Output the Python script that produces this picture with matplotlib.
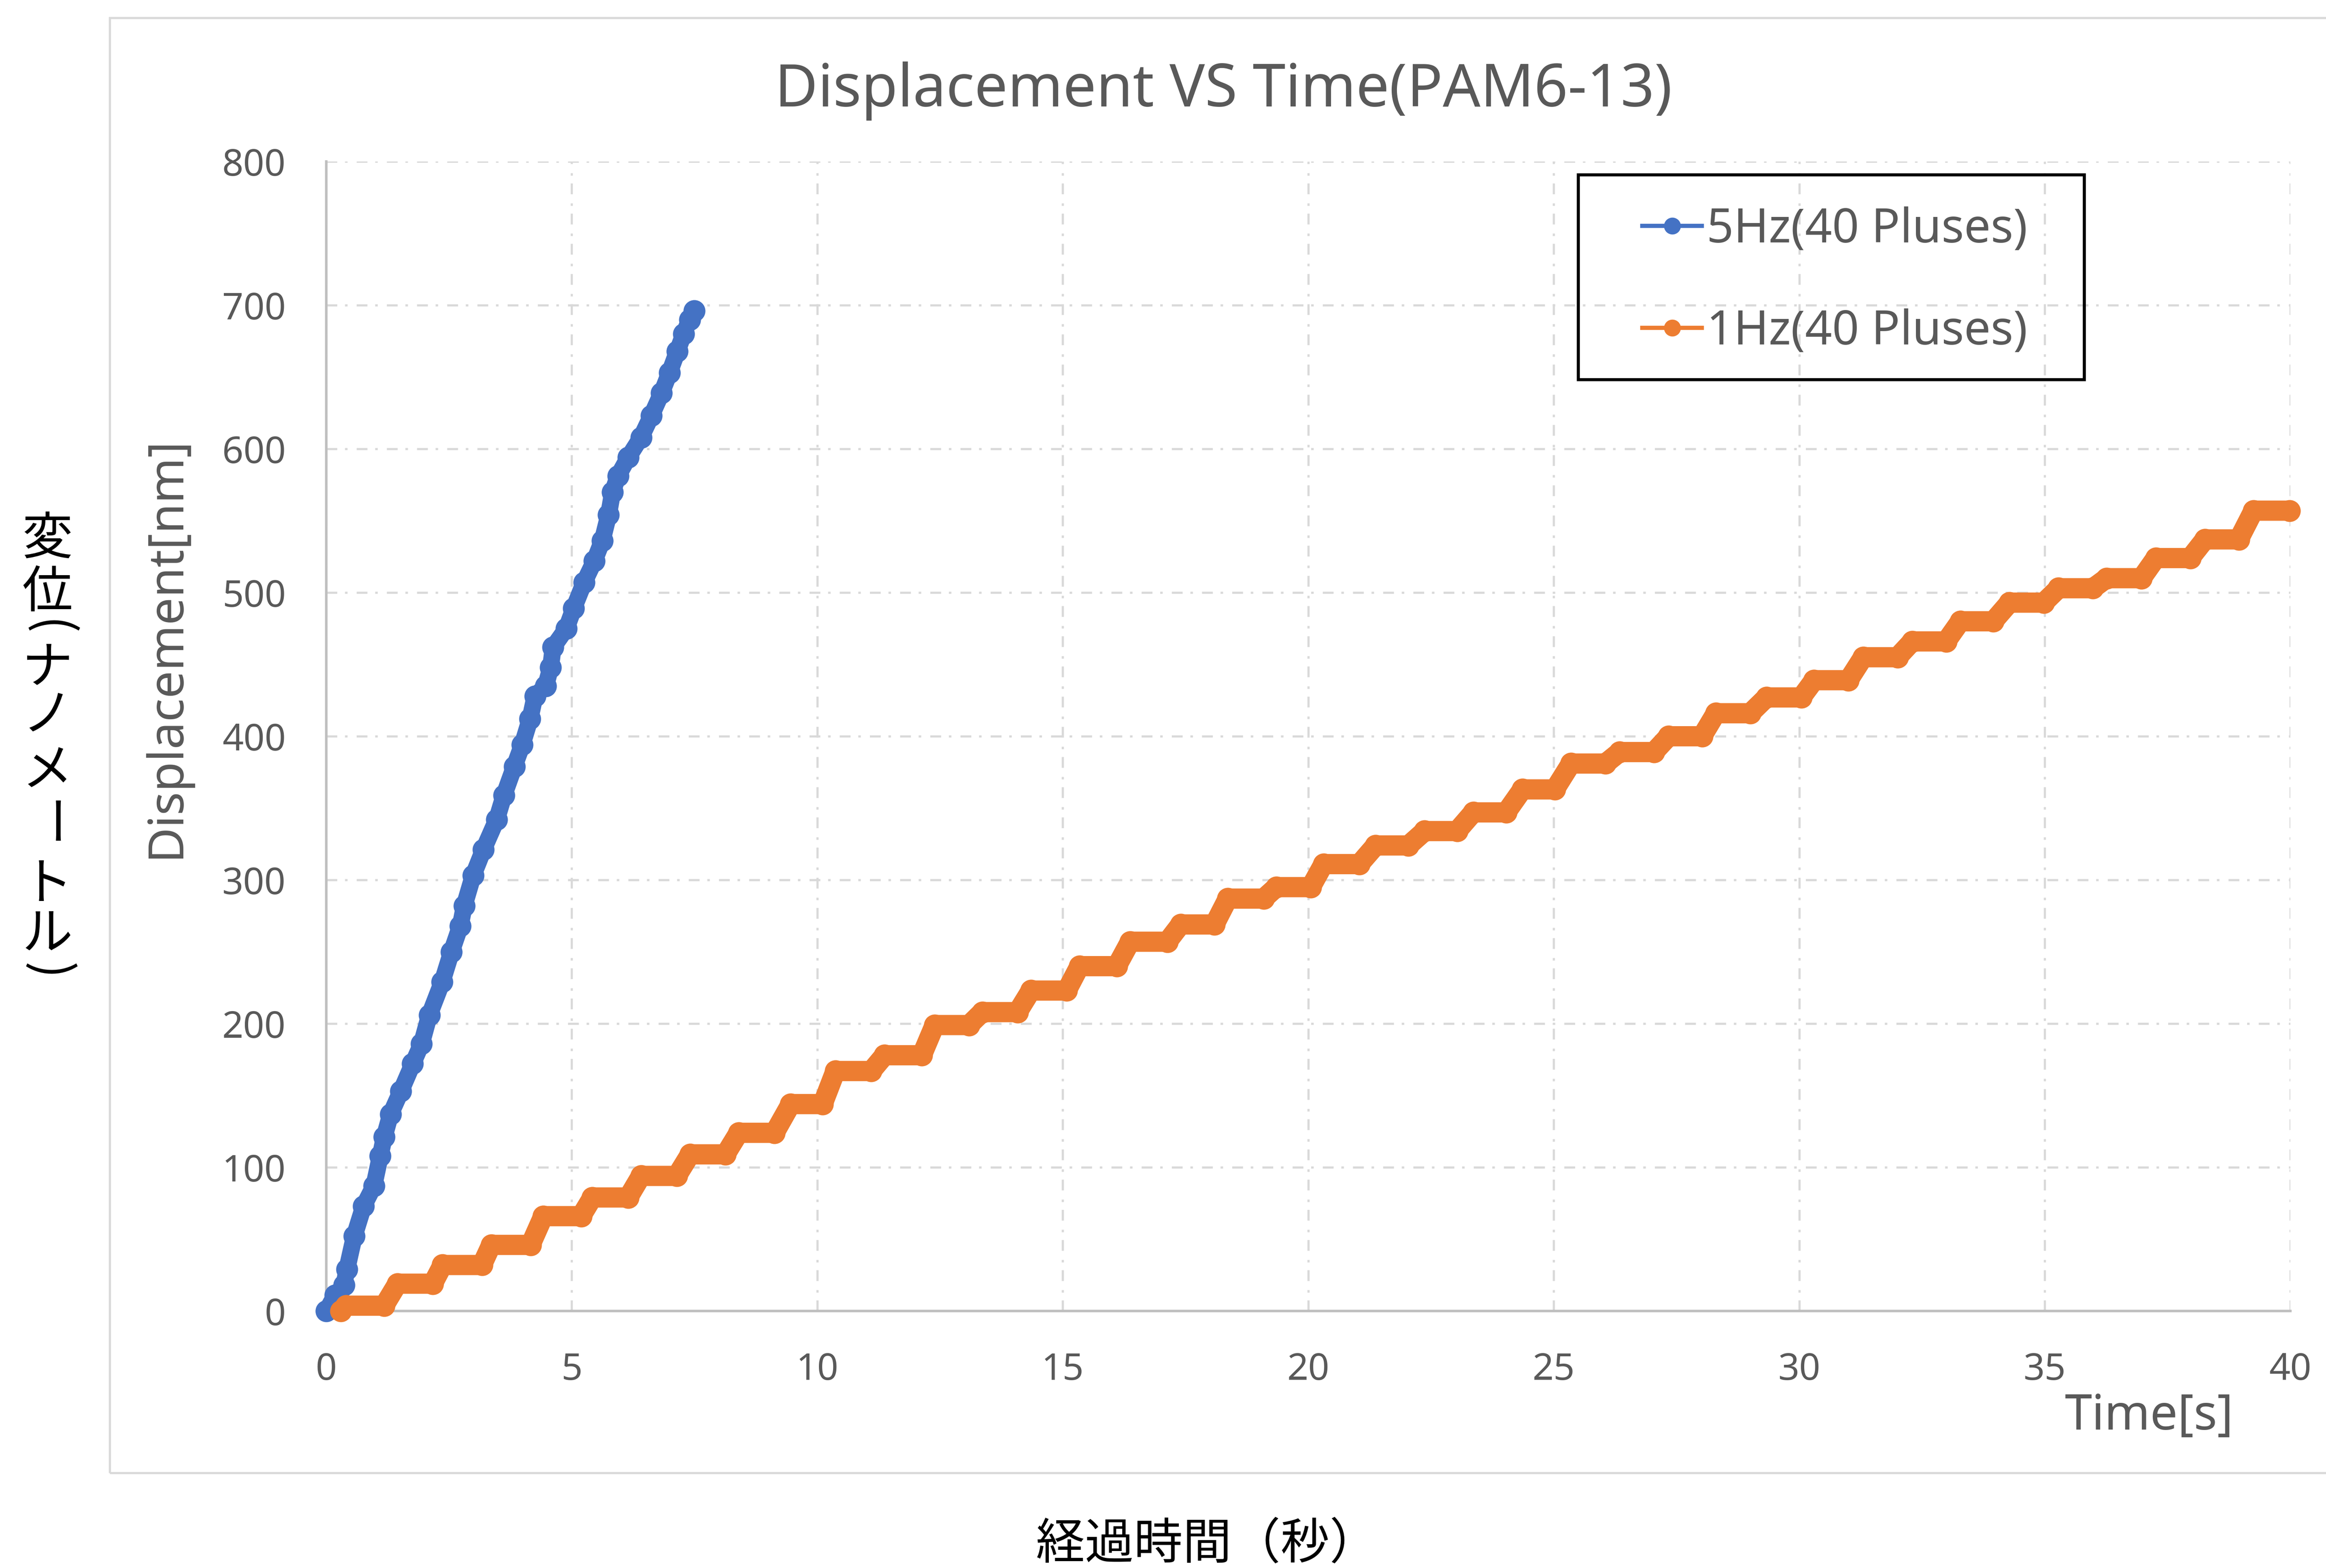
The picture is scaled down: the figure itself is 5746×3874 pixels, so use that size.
import matplotlib
matplotlib.use("Agg")
import matplotlib.pyplot as plt
from matplotlib.lines import Line2D
from matplotlib.patches import Rectangle

# 5Hz series (time s, displacement nm)
blue_t = [0, 0.18, 0.36, 0.42, 0.57, 0.76, 0.97, 1.10, 1.18, 1.31, 1.52, 1.76,
          1.94, 2.10, 2.36, 2.55, 2.73, 2.81, 2.99, 3.20, 3.47, 3.62, 3.83, 3.99,
          4.15, 4.25, 4.47, 4.57, 4.62, 4.89, 5.04, 5.25, 5.46, 5.62, 5.75, 5.83,
          5.94, 6.15, 6.41, 6.62, 6.83, 6.99, 7.15, 7.28, 7.40, 7.49]
blue_d = [0, 11, 18, 29, 52, 73, 87, 108, 121, 137, 153, 172,
          186, 206, 229, 250, 268, 282, 303, 321, 342, 359, 379, 394,
          412, 428, 435, 448, 462, 475, 489, 507, 522, 536, 554, 570,
          581, 594, 608, 623, 639, 653, 668, 680, 690, 696]

# 1Hz series: start and end of every step
orange_t = [0.30, 0.40,
            1.18, 1.45, 2.17, 2.37, 3.17, 3.36, 4.16, 4.42, 5.19, 5.42,
            6.15, 6.41, 7.14, 7.41, 8.13, 8.40, 9.13, 9.46, 10.11, 10.37,
            11.10, 11.37, 12.13, 12.39, 13.09, 13.36, 14.08, 14.35, 15.08, 15.34,
            16.10, 16.37, 17.13, 17.40, 18.09, 18.36, 19.09, 19.35, 20.05, 20.31,
            21.04, 21.37, 22.04, 22.37, 23.03, 23.36, 24.03, 24.36, 25.02, 25.35,
            26.05, 26.34, 27.04, 27.34, 28.02, 28.30, 29.00, 29.33, 30.04, 30.30,
            31.00, 31.30, 32.00, 32.30, 32.99, 33.28, 33.95, 34.28, 34.98, 35.28,
            35.98, 36.26, 36.97, 37.26, 37.96, 38.26, 38.95, 39.25,
            39.98]
orange_d = [0, 3.7,
            3.7, 19, 19, 32, 32, 46, 46, 66, 66, 79,
            79, 94, 94, 109, 109, 124, 124, 144, 144, 167,
            167, 178, 178, 199, 199, 208, 208, 223, 223, 240,
            240, 257, 257, 269, 269, 287, 287, 295, 295, 311,
            311, 324, 324, 334, 334, 347, 347, 363, 363, 381,
            381, 389, 389, 400, 400, 416, 416, 427, 427, 439,
            439, 455, 455, 466, 466, 480, 480, 493, 493, 503,
            503, 510, 510, 524, 524, 537, 537, 557,
            557]

labels = ["5Hz(40 Pluses)", "1Hz(40 Pluses)"]
x_ticks = [0, 5, 10, 15, 20, 25, 30, 35, 40]
y_ticks = [0, 100, 200, 300, 400, 500, 600, 700, 800]

BLUE = "#4472C4"
ORANGE = "#ED7D31"
GREY = "#595959"

plt.rcParams["font.family"] = ["Noto Sans", "DejaVu Sans"]
plt.rcParams["lines.scale_dashes"] = False
jp = ["Noto Sans CJK JP", "DejaVu Sans"]

fig = plt.figure(figsize=(5746 / 300, 3874 / 300), dpi=300)

# chart area frame
fig.patches.append(Rectangle((0.0472, 0.0607), 1.0, 0.928, transform=fig.transFigure,
                             fill=False, edgecolor="#D9D9D9", lw=1.3))

ax = fig.add_axes([0.14027, 0.16391, 0.84441, 0.73309])

ax.plot(blue_t, blue_d, color=BLUE, lw=10, marker="o", ms=12,
        solid_joinstyle="round", solid_capstyle="round", clip_on=False, zorder=3)
ax.plot(orange_t, orange_d, color=ORANGE, lw=12, marker="o", ms=12,
        solid_joinstyle="round", solid_capstyle="round", clip_on=False, zorder=4)

ax.set_xlim(0, 40)
ax.set_ylim(0, 800)
ax.set_xticks(x_ticks)
ax.set_yticks(y_ticks)
ax.tick_params(length=0, labelsize=22, labelcolor=GREY, pad=24)

for s in ["top", "right"]:
    ax.spines[s].set_visible(False)
for s in ["left", "bottom"]:
    ax.spines[s].set_color("#BFBFBF")
    ax.spines[s].set_linewidth(1.5)

ax.set_axisbelow(True)
ax.grid(True, color="#D9D9D9", lw=1.3, linestyle=(0, (6.4, 4.6, 1.5, 5.4)))

# legend
handles = [Line2D([], [], color=BLUE, lw=2.5, marker="o", ms=9),
           Line2D([], [], color=ORANGE, lw=2.5, marker="o", ms=9)]
ax.legend(handles, labels, frameon=False, loc="center left",
          bbox_to_anchor=(0.7061, 0.8208), bbox_transform=fig.transFigure,
          borderpad=0, borderaxespad=0, handlelength=1.26, handletextpad=0.1,
          labelspacing=1.16, fontsize=28, labelcolor=GREY)
fig.patches.append(Rectangle((0.6786, 0.7579), 0.2175, 0.1306, transform=fig.transFigure,
                             fill=False, edgecolor="black", lw=1.8, zorder=5))

# texts
fig.text(0.526, 0.942, "Displacement VS Time(PAM6-13)", ha="center", va="center",
         fontsize=35, color=GREY)
fig.text(0.0714, 0.587, "Displacement[nm]", rotation=90, ha="center", va="center",
         fontsize=29, color=GREY)
fig.text(0.924, 0.0965, "Time[s]", ha="center", va="center", fontsize=29, color=GREY)
fig.text(0.519, 0.0145, "経過時間（秒）", ha="center", va="center", fontsize=29,
         color="black", family=jp)

# vertical japanese label, one glyph at a time (brackets and bar turned)
vchars = ["変", "位", "(", "ナ", "ノ", "メ", "ー", "ト", "ル", ")"]
vy_px = [1333, 1465, 1552, 1652, 1770, 1905, 2039, 2187, 2310, 2400]
for ch, y in zip(vchars, vy_px):
    turned = ch in "()ー"
    fig.text(0.0204, 1 - y / 3874, ch, ha="center", va="center", fontsize=30,
             color="black", family=jp, rotation=-90 if turned else 0)

fig.savefig("out.png", dpi=300)
